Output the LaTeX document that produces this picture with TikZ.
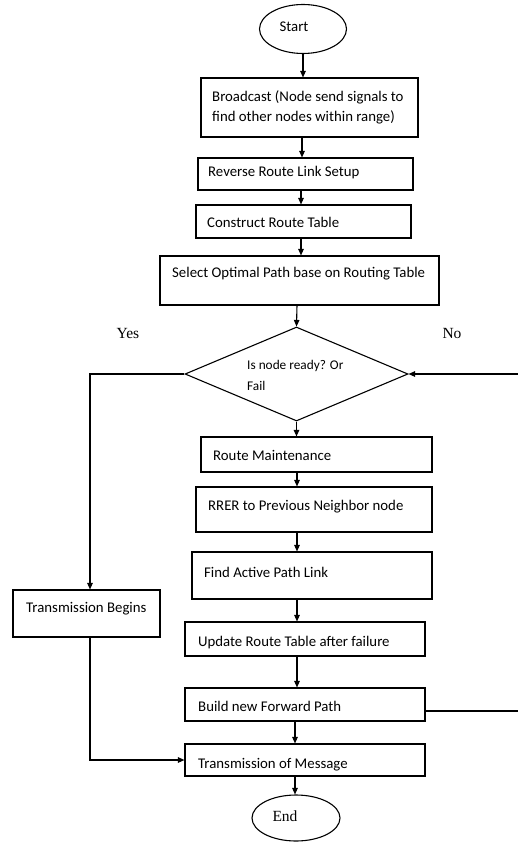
\documentclass[tikz,border=0pt]{standalone}
\usepackage{fontspec}
\setmainfont{Carlito}
\newfontfamily\seriffont{Liberation Serif}
\usetikzlibrary{arrows.meta,shapes.geometric}
\begin{document}
\begin{tikzpicture}[x=1pt,y=-1pt,
  box/.style={draw,line width=1.1pt,rectangle,inner sep=0pt},
  oval/.style={draw,line width=1.1pt,ellipse,inner sep=0pt},
  dmd/.style={draw,line width=1.1pt,diamond,inner sep=0pt},
  txt/.style={inner sep=0pt,anchor=west,align=left,font=\fontsize{14.8}{20}\selectfont},
  lbl/.style={inner sep=0pt,font=\seriffont\fontsize{15.5}{17}\selectfont},
  arr/.style={line width=1.1pt,-{Triangle[length=6.5pt,width=5.5pt]}},
  ln/.style={line width=1.1pt}]
\useasboundingbox (0,0) rectangle (518,842);
% shapes
\node[oval,minimum width=87pt,minimum height=49pt] (start) at (303,29) {};
\node[box,minimum width=217pt,minimum height=59pt] (bc) at (309.5,107.5) {};
\node[box,minimum width=215pt,minimum height=32pt] (rev) at (305.5,174) {};
\node[box,minimum width=215pt,minimum height=33pt] (con) at (303.5,221.5) {};
\node[box,minimum width=279pt,minimum height=49pt] (sel) at (299.5,280.5) {};
\node[dmd,minimum width=223pt,minimum height=94pt] (dia) at (296.5,374) {};
\node[box,minimum width=231pt,minimum height=35pt] (rm) at (316.5,454.5) {};
\node[box,minimum width=236pt,minimum height=45pt] (rrer) at (314,509.5) {};
\node[box,minimum width=240pt,minimum height=47pt] (fa) at (312,575.5) {};
\node[box,minimum width=240pt,minimum height=34pt] (upd) at (305,639) {};
\node[box,minimum width=240pt,minimum height=33pt] (bld) at (305,704.5) {};
\node[box,minimum width=240pt,minimum height=32pt] (tm) at (305,760) {};
\node[box,minimum width=147pt,minimum height=47pt] (tb) at (86.5,613.5) {};
\node[oval,minimum width=88pt,minimum height=46pt] (end) at (296,818) {};
% texts
\node[txt,anchor=center] (tstart) at (294,27) {Start};
\node[txt] (tbc) at (212,107) {Broadcast (Node send signals to\\find other nodes within range)};
\node[txt] (trev) at (208,173) {Reverse Route Link Setup};
\node[txt] (tcon) at (207,222) {Construct Route Table};
\node[txt] (tsel) at (172,274) {Select Optimal Path base on Routing Table};
\node[txt,font=\fontsize{13.3}{21}\selectfont] (tdia) at (247,375) {Is node ready? Or\\Fail};
\node[txt] (trm) at (213,455) {Route Maintenance};
\node[txt] (trrer) at (208,507) {RRER to Previous Neighbor node};
\node[txt] (tfa) at (204,572) {Find Active Path Link};
\node[txt] (ttb) at (26,609) {Transmission Begins};
\node[txt] (tupd) at (198,643) {Update Route Table after failure};
\node[txt] (tbld) at (198,706) {Build new Forward Path};
\node[txt] (ttm) at (198,765) {Transmission of Message};
\node[lbl] (tend) at (285,816) {End};
\node[lbl] (yes) at (128,333) {Yes};
\node[lbl] (no) at (452,333) {No};
% connectors
\draw[arr] (start.south) -- (start.south |- bc.north);
\draw[arr] (302,137) coordinate (a1) -- (a1 |- rev.north);
\draw[arr] (301,190) coordinate (a2) -- (a2 |- con.north);
\draw[arr] (301,238) coordinate (a3) -- (a3 |- sel.north);
\draw[arr] (297,305) coordinate (a4) -- (dia.north);
\draw[arr] (dia.south) -- (dia.south |- rm.north);
\draw[arr] (297,472) coordinate (a5) -- (a5 |- rrer.north);
\draw[arr] (297,532) coordinate (a6) -- (a6 |- fa.north);
\draw[arr] (297,599) coordinate (a7) -- (a7 |- upd.north);
\draw[arr] (297,656) coordinate (a8) -- (a8 |- bld.north);
\draw[arr] (295,721) coordinate (a9) -- (a9 |- tm.north);
\draw[arr] (295,776) coordinate (a10) -- (a10 |- end.north);
\coordinate (yc) at (90,374);
\draw[arr] (dia.west) -- (yc) -- (yc |- tb.north);
\draw[arr] (tb.south -| yc) |- (tm.west);
\coordinate (nr) at (518,374);
\draw[arr] (nr) -- (dia.east);
\coordinate (br) at (518,711);
\draw[ln] (br -| bld.east) -- (br);
\end{tikzpicture}
\end{document}
